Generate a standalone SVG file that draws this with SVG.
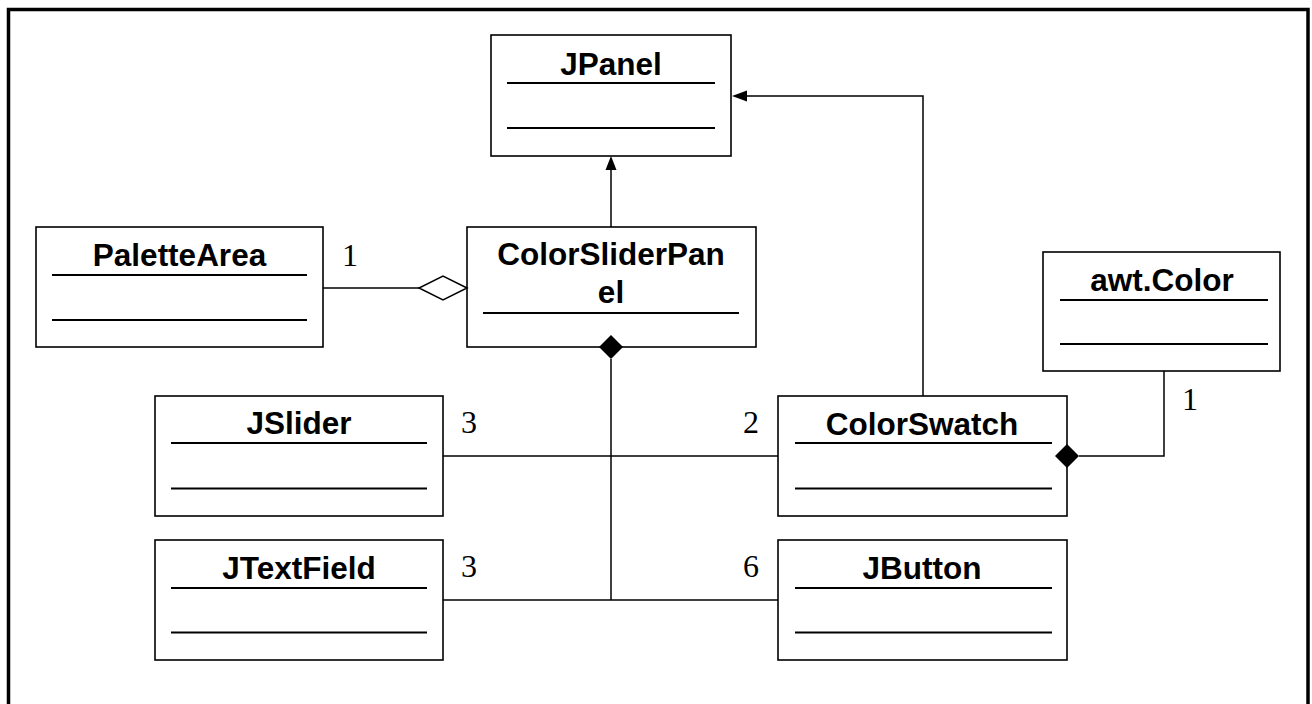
<svg xmlns="http://www.w3.org/2000/svg" width="1312" height="704" viewBox="0 0 1312 704">
<defs>
<style>
.box{fill:#fff;stroke:#000;stroke-width:1.6}
.sep{stroke:#000;stroke-width:2.2}
.title{font-family:"Liberation Sans",Arial,sans-serif;font-weight:bold;font-size:31.5px;text-anchor:middle;fill:#000}
.mult{font-family:"Liberation Serif","Times New Roman",serif;font-size:32px;text-anchor:middle;fill:#000}
.conn{fill:none;stroke:#000;stroke-width:1.5}
</style>
</defs>
<rect x="0" y="0" width="1312" height="704" fill="#fff"/>
<rect x="8.5" y="9.5" width="1299.5" height="720" fill="none" stroke="#000" stroke-width="3.5"/>
<g id="JPanel">
<rect class="box" x="491" y="35" width="240" height="121"/>
<text class="title" x="611" y="75">JPanel</text>
<line class="sep" x1="507" y1="83" x2="715" y2="83"/>
<line class="sep" x1="507" y1="128" x2="715" y2="128"/>
</g>
<g id="PaletteArea">
<rect class="box" x="36" y="227" width="287" height="120"/>
<text class="title" x="179.5" y="266">PaletteArea</text>
<line class="sep" x1="52" y1="275" x2="307" y2="275"/>
<line class="sep" x1="52" y1="320" x2="307" y2="320"/>
</g>
<g id="ColorSliderPanel">
<rect class="box" x="467" y="227" width="289" height="120"/>
<text class="title" x="611" y="265">ColorSliderPan</text>
<text class="title" x="611" y="303">el</text>
<line class="sep" x1="483" y1="313" x2="739" y2="313"/>
</g>
<g id="awtColor">
<rect class="box" x="1043" y="252" width="237" height="119"/>
<text class="title" x="1162" y="291">awt.Color</text>
<line class="sep" x1="1060" y1="300" x2="1268" y2="300"/>
<line class="sep" x1="1060" y1="344" x2="1268" y2="344"/>
</g>
<g id="JSlider">
<rect class="box" x="155" y="396" width="288" height="120"/>
<text class="title" x="299" y="434">JSlider</text>
<line class="sep" x1="171" y1="443" x2="427" y2="443"/>
<line class="sep" x1="171" y1="488.5" x2="427" y2="488.5"/>
</g>
<g id="ColorSwatch">
<rect class="box" x="778" y="396" width="289" height="120"/>
<text class="title" x="922" y="435">ColorSwatch</text>
<line class="sep" x1="795" y1="443" x2="1052" y2="443"/>
<line class="sep" x1="795" y1="488.5" x2="1052" y2="488.5"/>
</g>
<g id="JTextField">
<rect class="box" x="155" y="540" width="288" height="120"/>
<text class="title" x="299" y="579">JTextField</text>
<line class="sep" x1="171" y1="588" x2="427" y2="588"/>
<line class="sep" x1="171" y1="632.5" x2="427" y2="632.5"/>
</g>
<g id="JButton">
<rect class="box" x="778" y="540" width="289" height="120"/>
<text class="title" x="922" y="579">JButton</text>
<line class="sep" x1="795" y1="588" x2="1052" y2="588"/>
<line class="sep" x1="795" y1="632.5" x2="1052" y2="632.5"/>
</g>
<g id="connectors">
<polyline class="conn" points="611,227 611,170"/>
<polygon points="611,156 605.5,170 616.5,170" fill="#000"/>
<polyline class="conn" points="923,396 923,96 747,96"/>
<polygon points="732,96 747,90.5 747,101.5" fill="#000"/>
<line class="conn" x1="323" y1="288" x2="419" y2="288"/>
<polygon points="467,288 443,276 419,288 443,300" fill="#fff" stroke="#000" stroke-width="1.5"/>
<line class="conn" x1="611" y1="359" x2="611" y2="600" stroke-width="2"/>
<polygon points="611,335 623,347 611,359 599,347" fill="#000"/>
<line class="conn" x1="443" y1="456" x2="778" y2="456" stroke-width="1.2"/>
<line class="conn" x1="443" y1="600" x2="778" y2="600" stroke-width="1.2"/>
<polyline class="conn" points="1079,456 1164,456 1164,371"/>
<polygon points="1055,456 1067,444 1079,456 1067,468" fill="#000"/>
<text class="mult" x="350" y="266">1</text>
<text class="mult" x="469" y="433">3</text>
<text class="mult" x="751" y="433">2</text>
<text class="mult" x="469" y="577">3</text>
<text class="mult" x="751" y="577">6</text>
<text class="mult" x="1190" y="410">1</text>
</g>
</svg>
